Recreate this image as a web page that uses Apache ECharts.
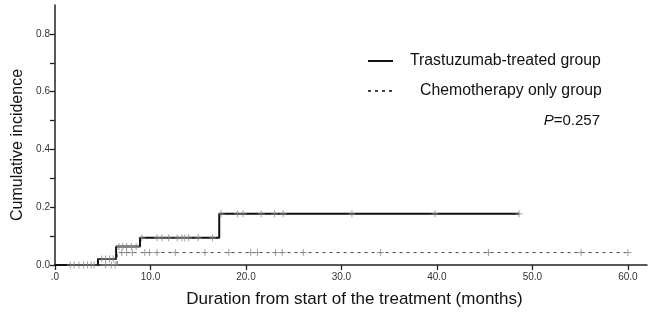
<!DOCTYPE html>
<html><head><meta charset="utf-8">
<script src="https://cdn.jsdelivr.net/npm/echarts@6/dist/echarts.min.js"></script>
<style>html,body{margin:0;padding:0;background:#fff}#c{width:650px;height:314px}</style>
</head><body><div id="c"></div>
<script>
// Step function data (event times in months and cumulative incidence)
var trastuzumabTimes = [0, 4.5, 6.4, 8.9, 17.2, 48.6];
var trastuzumabCI    = [0, 0.021, 0.064, 0.094, 0.177, 0.177];
var chemoTimes = [0, 6.5, 60];
var chemoCI    = [0, 0.043, 0.043];
// Censored observation times
var trastuzumabCensored = [2.0, 3.4, 4.1, 4.9, 5.3, 5.7, 6.1, 6.7, 7.1, 7.5, 8.0, 8.5, 9.1, 10.7, 11.2, 11.9, 12.8, 13.3, 13.6, 14.0, 15.0, 16.5, 17.4, 19.1, 19.7, 21.6, 23.0, 23.9, 31.1, 39.8, 48.6];
var chemoCensored = [1.6, 2.5, 3.0, 3.8, 5.3, 5.9, 6.3, 7.0, 7.5, 8.1, 9.4, 9.9, 10.7, 12.6, 15.7, 18.2, 20.5, 21.2, 23.1, 23.8, 26.0, 34.1, 45.4, 55.1, 60.0];
var xTicks = [0, 10, 20, 30, 40, 50, 60];
var yLabels = [0, 0.2, 0.4, 0.6, 0.8];
var yTicks = [0, 0.1, 0.2, 0.3, 0.4, 0.5, 0.6, 0.7, 0.8];
var nameA = 'Trastuzumab-treated group';
var nameB = 'Chemotherapy only group';
var pText = '=0.257';

function stepAt(times, vals, t) {
  var v = vals[0];
  for (var i = 0; i < times.length; i++) { if (times[i] <= t) v = vals[i]; }
  return v;
}
function pairs(a, b) { return a.map(function (t, i) { return [t, b[i]]; }); }
function censorPts(ct, times, vals) { return ct.map(function (t) { return [t, stepAt(times, vals, t)]; }); }

var plus = 'path://M5,0L5,10M0,5L10,5';
var font = 'Liberation Sans, Arial, sans-serif';
var hideSym = {color: 'rgba(0,0,0,0)', borderColor: 'rgba(0,0,0,0)', borderWidth: 0};
var chart = echarts.init(document.getElementById('c'), null, {renderer: 'canvas'});
chart.setOption({
  animation: false,
  grid: {left: 55, right: 3, top: 5, bottom: 49, containLabel: false, outerBoundsMode: 'none'},
  xAxis: {
    type: 'value', min: 0, max: 62, interval: 10,
    axisLine: {lineStyle: {color: '#222', width: 1.5}},
    axisTick: {show: true, length: 5, lineStyle: {color: '#222', width: 1.3}, customValues: xTicks},
    axisLabel: {color: '#333', fontSize: 10, fontFamily: font, margin: 7, customValues: xTicks,
      formatter: function (v) { return v === 0 ? '.0' : v.toFixed(1); }},
    splitLine: {show: false},
    name: 'Duration from start of the treatment (months)', nameLocation: 'middle', nameGap: 26,
    nameTextStyle: {fontSize: 17, color: '#111', fontFamily: font, padding: [0, 0, 0, 7]}
  },
  yAxis: {
    type: 'value', min: 0, max: 0.9, interval: 0.1,
    axisLine: {show: true, lineStyle: {color: '#222', width: 1.5}},
    axisTick: {show: true, length: 5, lineStyle: {color: '#222', width: 1.3}, customValues: yTicks},
    axisLabel: {color: '#333', fontSize: 10, fontFamily: font, margin: 5, customValues: yLabels,
      formatter: function (v) { return v.toFixed(1); }},
    splitLine: {show: false},
    name: 'Cumulative incidence', nameLocation: 'middle', nameGap: 25,
    nameTextStyle: {fontSize: 16, color: '#111', fontFamily: font, padding: [0, 20, 0, 0]}
  },
  legend: [
    {data: [nameA], left: 362, top: 48, itemWidth: 25, itemHeight: 10, itemGap: 0, itemStyle: hideSym,
      textStyle: {fontSize: 15.8, color: '#111', fontFamily: font, padding: [0, 0, 0, 12]}},
    {data: [nameB], left: 362, top: 78, itemWidth: 25, itemHeight: 10, itemGap: 0, itemStyle: hideSym,
      textStyle: {fontSize: 15.8, color: '#111', fontFamily: font, padding: [0, 0, 0, 22]}}
  ],
  graphic: [{
    type: 'text', right: 50, top: 113,
    style: {rich: {i: {fontStyle: 'italic', fontSize: 15, fontFamily: font, fill: '#111'},
                   n: {fontSize: 15, fontFamily: font, fill: '#111'}},
            text: '{i|P}{n|' + pText + '}'}
  }],
  series: [
    {name: nameA, type: 'line', step: 'end', symbol: 'none', data: pairs(trastuzumabTimes, trastuzumabCI),
      lineStyle: {color: '#111', width: 2}, itemStyle: {color: '#111'}, z: 3},
    {name: nameB, type: 'line', step: 'end', symbol: 'none', data: pairs(chemoTimes, chemoCI),
      lineStyle: {color: '#444', width: 1, type: [3, 4]}, itemStyle: {color: '#444'}, z: 2},
    {type: 'scatter', symbol: plus, symbolSize: 7, data: censorPts(trastuzumabCensored, trastuzumabTimes, trastuzumabCI),
      itemStyle: {color: 'none', borderColor: '#888', borderWidth: 1}, z: 4},
    {type: 'scatter', symbol: plus, symbolSize: 7, data: censorPts(chemoCensored, chemoTimes, chemoCI),
      itemStyle: {color: 'none', borderColor: '#888', borderWidth: 1}, z: 4}
  ]
});
</script></body></html>
